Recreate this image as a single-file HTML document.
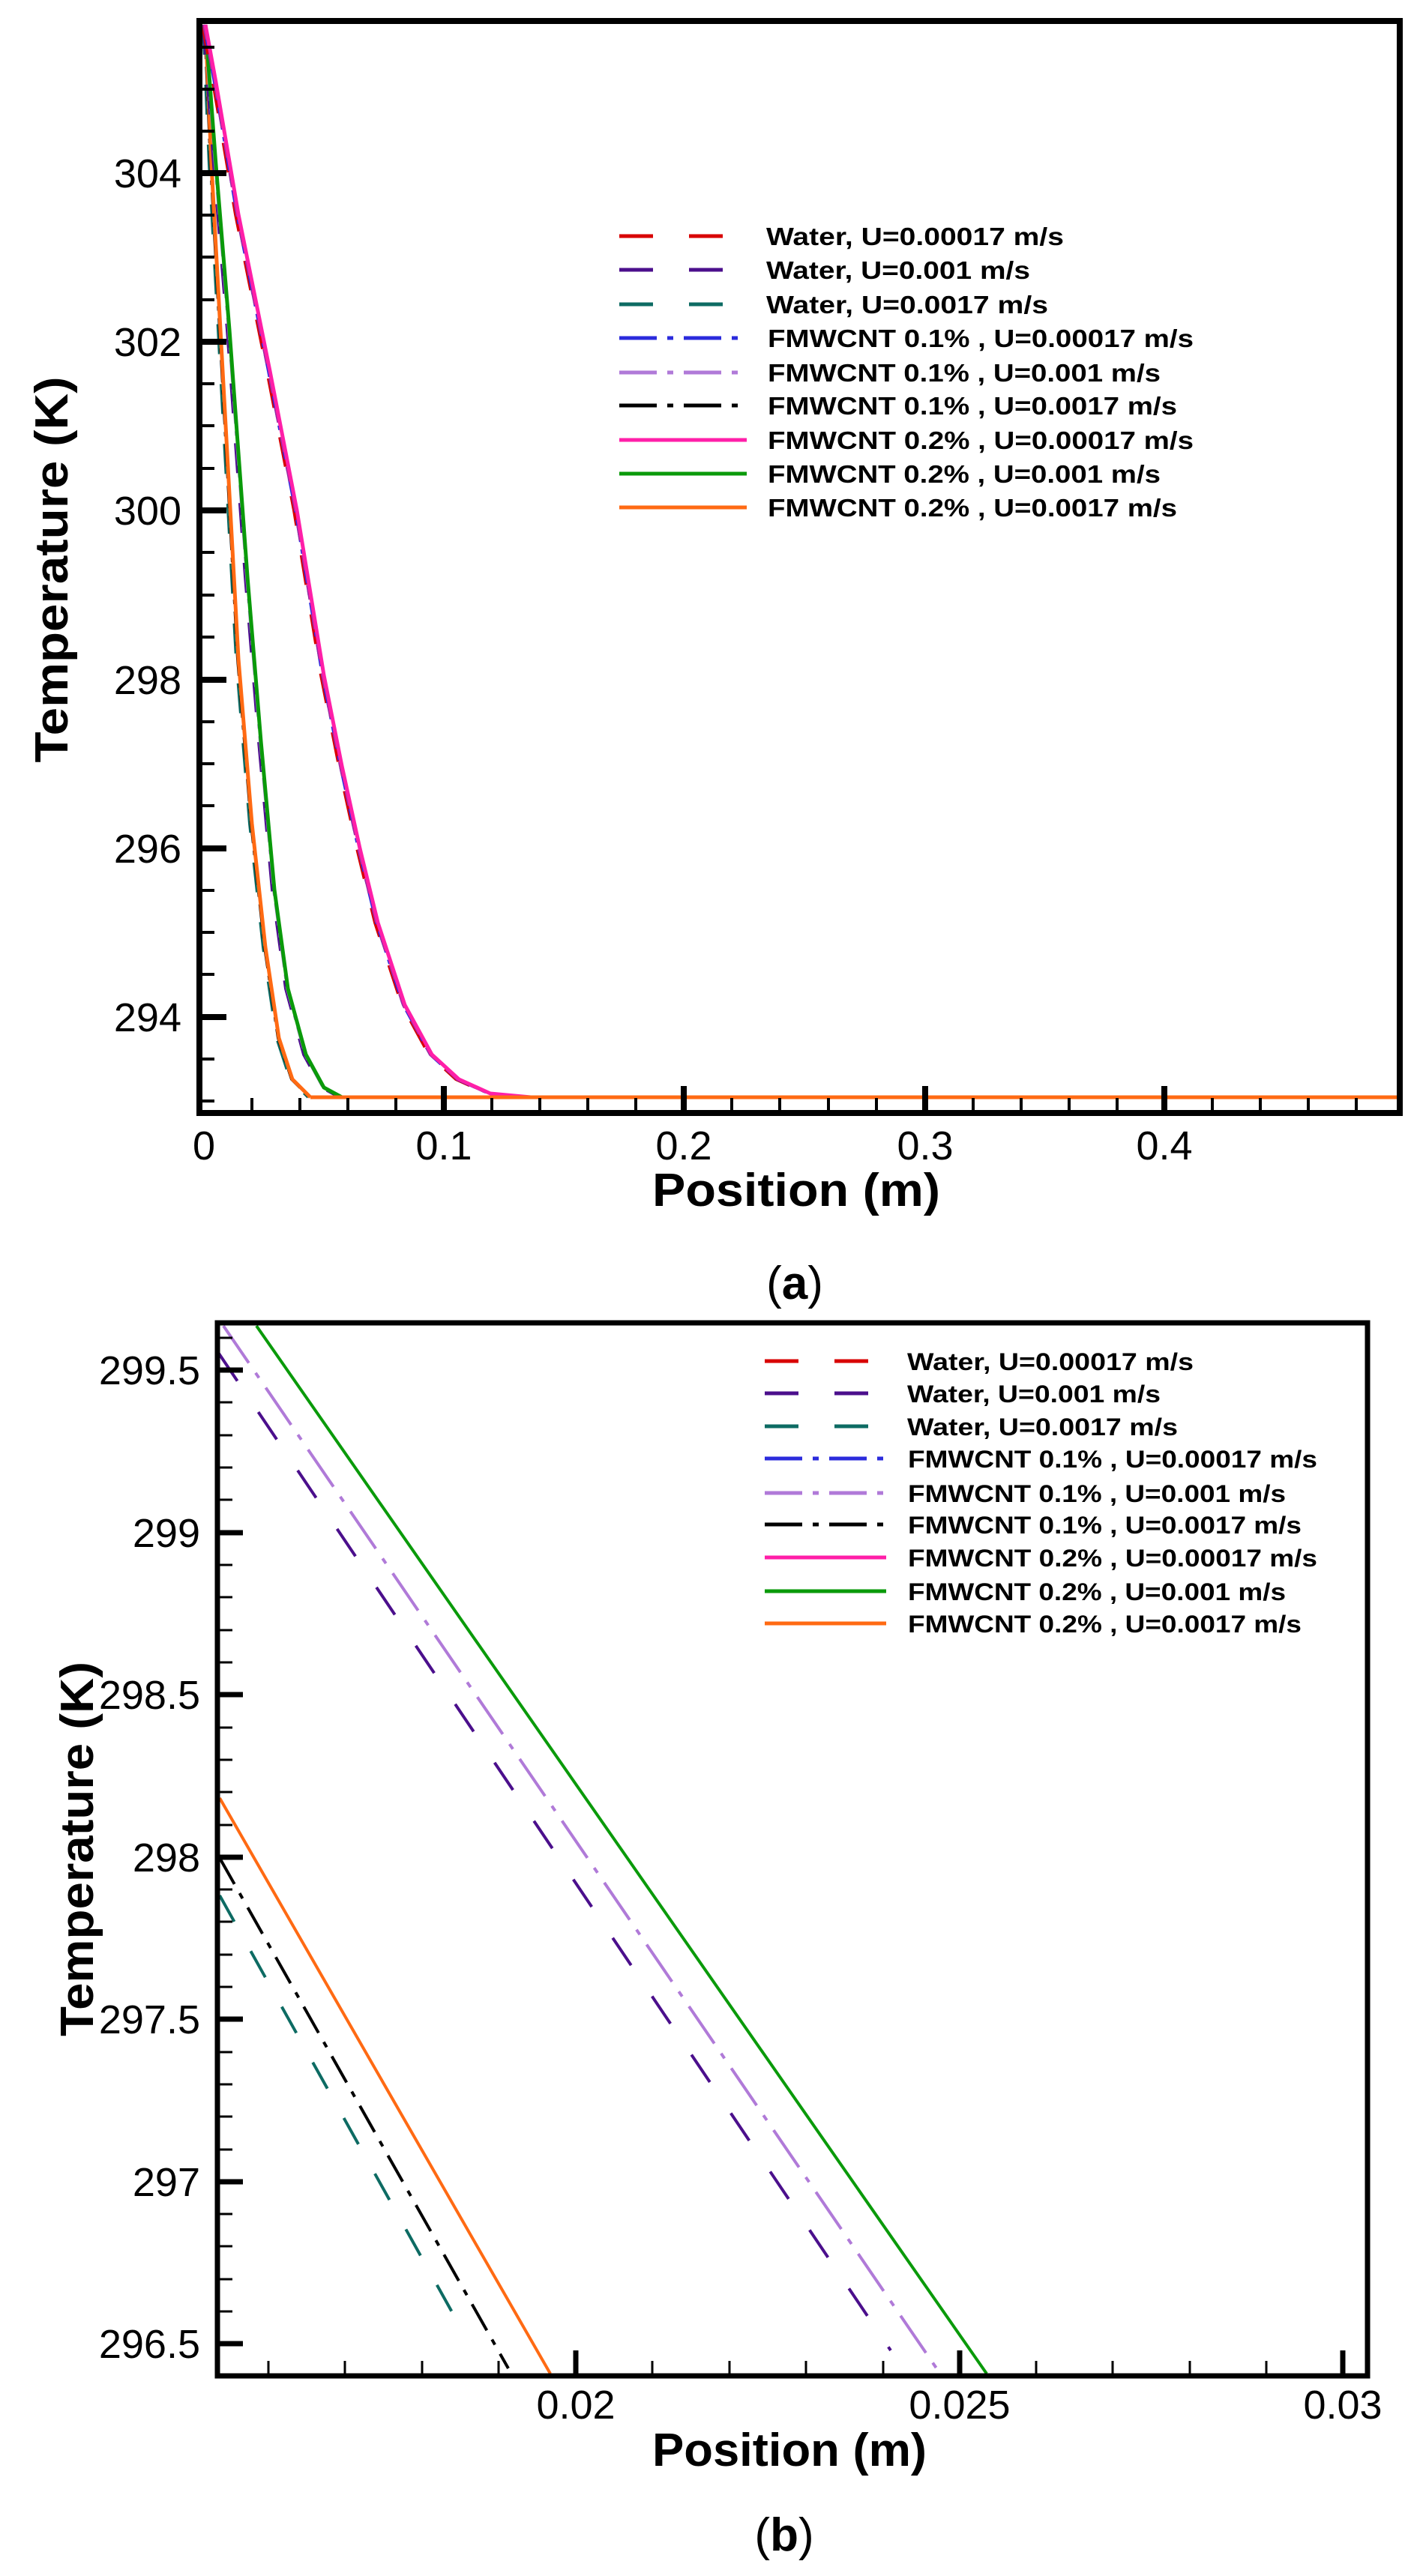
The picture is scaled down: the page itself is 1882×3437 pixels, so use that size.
<!DOCTYPE html>
<html><head><meta charset="utf-8"><style>
html,body{margin:0;padding:0;background:#fff;}
svg{display:block;}
text{font-family:"Liberation Sans",Arial,sans-serif;}
</style></head><body>
<svg width="1882" height="3437" viewBox="0 0 1882 3437" xmlns="http://www.w3.org/2000/svg">
<rect width="1882" height="3437" fill="#fff"/>
<!-- ===== PLOT A ===== -->
<g fill="none" stroke-linejoin="round">
<!-- orange group -->
<polyline stroke="#0d6b63" stroke-width="4" stroke-dasharray="40,40" points="271,33 279,220 291,440 303,659 315,879 333,1099 351,1264 369,1385 387,1440 411,1464"/>
<polyline stroke="#000" stroke-width="4" stroke-dasharray="30,10,6,10" points="273,33 281,220 293,440 305,659 317,879 335,1099 353,1264 371,1385 389,1440 413,1464"/>
<polyline stroke="#ff6a13" stroke-width="5" points="274,33 282,220 294,440 306,659 318,879 336,1099 354,1264 372,1385 390,1440 414,1464"/>
<!-- green group -->
<polyline stroke="#4b0f8c" stroke-width="4" stroke-dasharray="40,40" points="271,33 285,220 303,440 315,604 327,769 345,989 363,1187 381,1319 405,1407 429,1451 453,1464"/>
<polyline stroke="#b07ad8" stroke-width="4" stroke-dasharray="30,10,6,10" points="273,33 287,220 305,440 317,604 329,769 347,989 365,1187 383,1319 407,1407 431,1451 455,1464"/>
<polyline stroke="#0a9a0a" stroke-width="5" points="274,33 288,220 306,440 318,604 330,769 348,989 366,1187 384,1319 408,1407 432,1451 456,1464"/>
<!-- pink group -->
<polyline stroke="#d80000" stroke-width="4" stroke-dasharray="40,40" points="270,33 284,110 314,286 356,495 392,681 428,901 452,1022 476,1132 500,1231 536,1341 572,1407 608,1440 650,1459 704,1464"/>
<polyline stroke="#2b2bdc" stroke-width="4" stroke-dasharray="30,10,6,10" points="272,33 286,110 316,286 358,495 394,681 430,901 454,1022 478,1132 502,1231 538,1341 574,1407 610,1440 652,1459 706,1464"/>
<polyline stroke="#9a2aa0" stroke-width="4" stroke-dasharray="20,20" points="272,33 286,110 316,286 358,495 394,681 430,901 454,1022 478,1132 502,1231 538,1341 574,1407 610,1440 652,1459 706,1464"/>
<polyline stroke="#ff1fa8" stroke-width="5" points="274,33 288,110 318,286 360,495 396,681 432,901 456,1022 480,1132 504,1231 540,1341 576,1407 612,1440 654,1459 708,1464"/>
<line x1="414" y1="1464" x2="1863" y2="1464" stroke="#ff6a13" stroke-width="5"/>
</g>
<!-- axes A -->
<g stroke="#000">
<rect x="266" y="28" width="1601" height="1457" fill="none" stroke-width="8"/>
<!-- y major ticks -->
<path stroke-width="8" d="M266,231h36 M266,456h36 M266,681h36 M266,907h36 M266,1132h36 M266,1357h36"/>
<path stroke-width="4" d="M266,63h20 M266,119h20 M266,175h20 M266,287h20 M266,343h20 M266,400h20 M266,512h20 M266,568h20 M266,625h20 M266,737h20 M266,794h20 M266,850h20 M266,963h20 M266,1019h20 M266,1075h20 M266,1188h20 M266,1244h20 M266,1300h20 M266,1413h20 M266,1469h20"/>
<!-- x ticks -->
<path stroke-width="8" d="M592,1485v-36 M912,1485v-36 M1234,1485v-36 M1553,1485v-36"/>
<path stroke-width="4" d="M336,1485v-20 M400,1485v-20 M464,1485v-20 M528,1485v-20 M656,1485v-20 M720,1485v-20 M784,1485v-20 M848,1485v-20 M976,1485v-20 M1040,1485v-20 M1105,1485v-20 M1169,1485v-20 M1298,1485v-20 M1362,1485v-20 M1426,1485v-20 M1490,1485v-20 M1617,1485v-20 M1681,1485v-20 M1745,1485v-20 M1809,1485v-20"/>
</g>
<g font-size="54" fill="#000" text-anchor="end">
<text x="242" y="250">304</text><text x="242" y="475">302</text><text x="242" y="700">300</text>
<text x="242" y="926">298</text><text x="242" y="1151">296</text><text x="242" y="1376">294</text>
</g>
<g font-size="54" fill="#000" text-anchor="middle">
<text x="272" y="1547">0</text><text x="592" y="1547">0.1</text><text x="912" y="1547">0.2</text><text x="1234" y="1547">0.3</text><text x="1553" y="1547">0.4</text>
</g>
<text x="1062" y="1609" font-size="62" font-weight="bold" text-anchor="middle" textLength="384" lengthAdjust="spacingAndGlyphs">Position (m)</text>
<text transform="translate(90,760) rotate(-90)" font-size="62" font-weight="bold" text-anchor="middle" textLength="515" lengthAdjust="spacingAndGlyphs">Temperature (K)</text>
<!-- legend A -->
<g stroke-width="5" fill="none">
<line x1="826" y1="315" x2="996" y2="315" stroke="#d80000" stroke-dasharray="45,48"/>
<line x1="826" y1="360" x2="996" y2="360" stroke="#4b0f8c" stroke-dasharray="45,48"/>
<line x1="826" y1="406" x2="996" y2="406" stroke="#0d6b63" stroke-dasharray="45,48"/>
<line x1="826" y1="451" x2="996" y2="451" stroke="#2b2bdc" stroke-dasharray="50,14,8,14"/>
<line x1="826" y1="497" x2="996" y2="497" stroke="#b07ad8" stroke-dasharray="50,14,8,14"/>
<line x1="826" y1="541" x2="996" y2="541" stroke="#000" stroke-dasharray="50,14,8,14"/>
<line x1="826" y1="587" x2="996" y2="587" stroke="#ff1fa8"/>
<line x1="826" y1="632" x2="996" y2="632" stroke="#0a9a0a"/>
<line x1="826" y1="677" x2="996" y2="677" stroke="#ff6a13"/>
</g>
<g font-size="33" font-weight="bold" fill="#000">
<text x="1022" y="327" textLength="397" lengthAdjust="spacingAndGlyphs">Water, U=0.00017 m/s</text>
<text x="1022" y="372" textLength="352" lengthAdjust="spacingAndGlyphs">Water, U=0.001 m/s</text>
<text x="1022" y="418" textLength="376" lengthAdjust="spacingAndGlyphs">Water, U=0.0017 m/s</text>
<text x="1024" y="463" textLength="568" lengthAdjust="spacingAndGlyphs">FMWCNT 0.1% , U=0.00017 m/s</text>
<text x="1024" y="509" textLength="524" lengthAdjust="spacingAndGlyphs">FMWCNT 0.1% , U=0.001 m/s</text>
<text x="1024" y="553" textLength="546" lengthAdjust="spacingAndGlyphs">FMWCNT 0.1% , U=0.0017 m/s</text>
<text x="1024" y="599" textLength="568" lengthAdjust="spacingAndGlyphs">FMWCNT 0.2% , U=0.00017 m/s</text>
<text x="1024" y="644" textLength="524" lengthAdjust="spacingAndGlyphs">FMWCNT 0.2% , U=0.001 m/s</text>
<text x="1024" y="689" textLength="546" lengthAdjust="spacingAndGlyphs">FMWCNT 0.2% , U=0.0017 m/s</text>
</g>
<text x="1060" y="1733" font-family="Liberation Serif,serif" font-size="62" text-anchor="middle" fill="#000">(<tspan font-weight="bold">a</tspan>)</text>

<!-- ===== PLOT B ===== -->
<g fill="none" stroke-width="4">
<line x1="342" y1="1769" x2="1316" y2="3167" stroke="#0a9a0a" stroke-width="4"/>
<line x1="298" y1="1769" x2="1254" y2="3167" stroke="#b07ad8" stroke-dasharray="60,16,8,16"/>
<line x1="292" y1="1806" x2="1188" y2="3136" stroke="#4b0f8c" stroke-dasharray="44,50"/>
<line x1="293" y1="2399" x2="734" y2="3167" stroke="#ff6a13" stroke-width="4"/>
<line x1="293" y1="2479" x2="678" y2="3160" stroke="#000" stroke-dasharray="40,14,8,14"/>
<line x1="293" y1="2529" x2="622" y2="3119" stroke="#0d6b63" stroke-dasharray="40,45"/>
</g>
<g stroke="#000">
<rect x="290" y="1765" width="1534" height="1405" fill="none" stroke-width="7"/>
<path stroke-width="7" d="M290,1828h34 M290,2045h34 M290,2261h34 M290,2478h34 M290,2694h34 M290,2911h34 M290,3127h34"/>
<path stroke-width="3" d="M290,1785h20 M290,1871h20 M290,1915h20 M290,1958h20 M290,2001h20 M290,2088h20 M290,2131h20 M290,2175h20 M290,2218h20 M290,2305h20 M290,2348h20 M290,2391h20 M290,2435h20 M290,2521h20 M290,2564h20 M290,2608h20 M290,2651h20 M290,2738h20 M290,2781h20 M290,2824h20 M290,2868h20 M290,2954h20 M290,2997h20 M290,3041h20 M290,3084h20"/>
<path stroke-width="7" d="M768,3170v-34 M1280,3170v-34 M1791,3170v-34"/>
<path stroke-width="3" d="M358,3170v-20 M460,3170v-20 M563,3170v-20 M665,3170v-20 M870,3170v-20 M973,3170v-20 M1075,3170v-20 M1178,3170v-20 M1382,3170v-20 M1484,3170v-20 M1587,3170v-20 M1689,3170v-20"/>
</g>
<g font-size="54" fill="#000" text-anchor="end">
<text x="267" y="1847">299.5</text><text x="267" y="2064">299</text><text x="267" y="2280">298.5</text>
<text x="267" y="2497">298</text><text x="267" y="2713">297.5</text><text x="267" y="2930">297</text><text x="267" y="3146">296.5</text>
</g>
<g font-size="54" fill="#000" text-anchor="middle">
<text x="768" y="3227">0.02</text><text x="1280" y="3227">0.025</text><text x="1791" y="3227">0.03</text>
</g>
<text x="1053" y="3290" font-size="62" font-weight="bold" text-anchor="middle" textLength="366" lengthAdjust="spacingAndGlyphs">Position (m)</text>
<text transform="translate(124,2467) rotate(-90)" font-size="62" font-weight="bold" text-anchor="middle" textLength="500" lengthAdjust="spacingAndGlyphs">Temperature (K)</text>
<g stroke-width="5" fill="none">
<line x1="1020" y1="1816" x2="1182" y2="1816" stroke="#d80000" stroke-dasharray="45,48"/>
<line x1="1020" y1="1859" x2="1182" y2="1859" stroke="#4b0f8c" stroke-dasharray="45,48"/>
<line x1="1020" y1="1903" x2="1182" y2="1903" stroke="#0d6b63" stroke-dasharray="45,48"/>
<line x1="1020" y1="1946" x2="1182" y2="1946" stroke="#2b2bdc" stroke-dasharray="50,14,8,14"/>
<line x1="1020" y1="1992" x2="1182" y2="1992" stroke="#b07ad8" stroke-dasharray="50,14,8,14"/>
<line x1="1020" y1="2034" x2="1182" y2="2034" stroke="#000" stroke-dasharray="50,14,8,14"/>
<line x1="1020" y1="2078" x2="1182" y2="2078" stroke="#ff1fa8"/>
<line x1="1020" y1="2123" x2="1182" y2="2123" stroke="#0a9a0a"/>
<line x1="1020" y1="2166" x2="1182" y2="2166" stroke="#ff6a13"/>
</g>
<g font-size="32" font-weight="bold" fill="#000">
<text x="1210" y="1828" textLength="382" lengthAdjust="spacingAndGlyphs">Water, U=0.00017 m/s</text>
<text x="1210" y="1871" textLength="338" lengthAdjust="spacingAndGlyphs">Water, U=0.001 m/s</text>
<text x="1210" y="1915" textLength="361" lengthAdjust="spacingAndGlyphs">Water, U=0.0017 m/s</text>
<text x="1211" y="1958" textLength="546" lengthAdjust="spacingAndGlyphs">FMWCNT 0.1% , U=0.00017 m/s</text>
<text x="1211" y="2004" textLength="504" lengthAdjust="spacingAndGlyphs">FMWCNT 0.1% , U=0.001 m/s</text>
<text x="1211" y="2046" textLength="525" lengthAdjust="spacingAndGlyphs">FMWCNT 0.1% , U=0.0017 m/s</text>
<text x="1211" y="2090" textLength="546" lengthAdjust="spacingAndGlyphs">FMWCNT 0.2% , U=0.00017 m/s</text>
<text x="1211" y="2135" textLength="504" lengthAdjust="spacingAndGlyphs">FMWCNT 0.2% , U=0.001 m/s</text>
<text x="1211" y="2178" textLength="525" lengthAdjust="spacingAndGlyphs">FMWCNT 0.2% , U=0.0017 m/s</text>
</g>
<text x="1046" y="3403" font-family="Liberation Serif,serif" font-size="62" text-anchor="middle" fill="#000">(<tspan font-weight="bold">b</tspan>)</text>
</svg>
</body></html>
